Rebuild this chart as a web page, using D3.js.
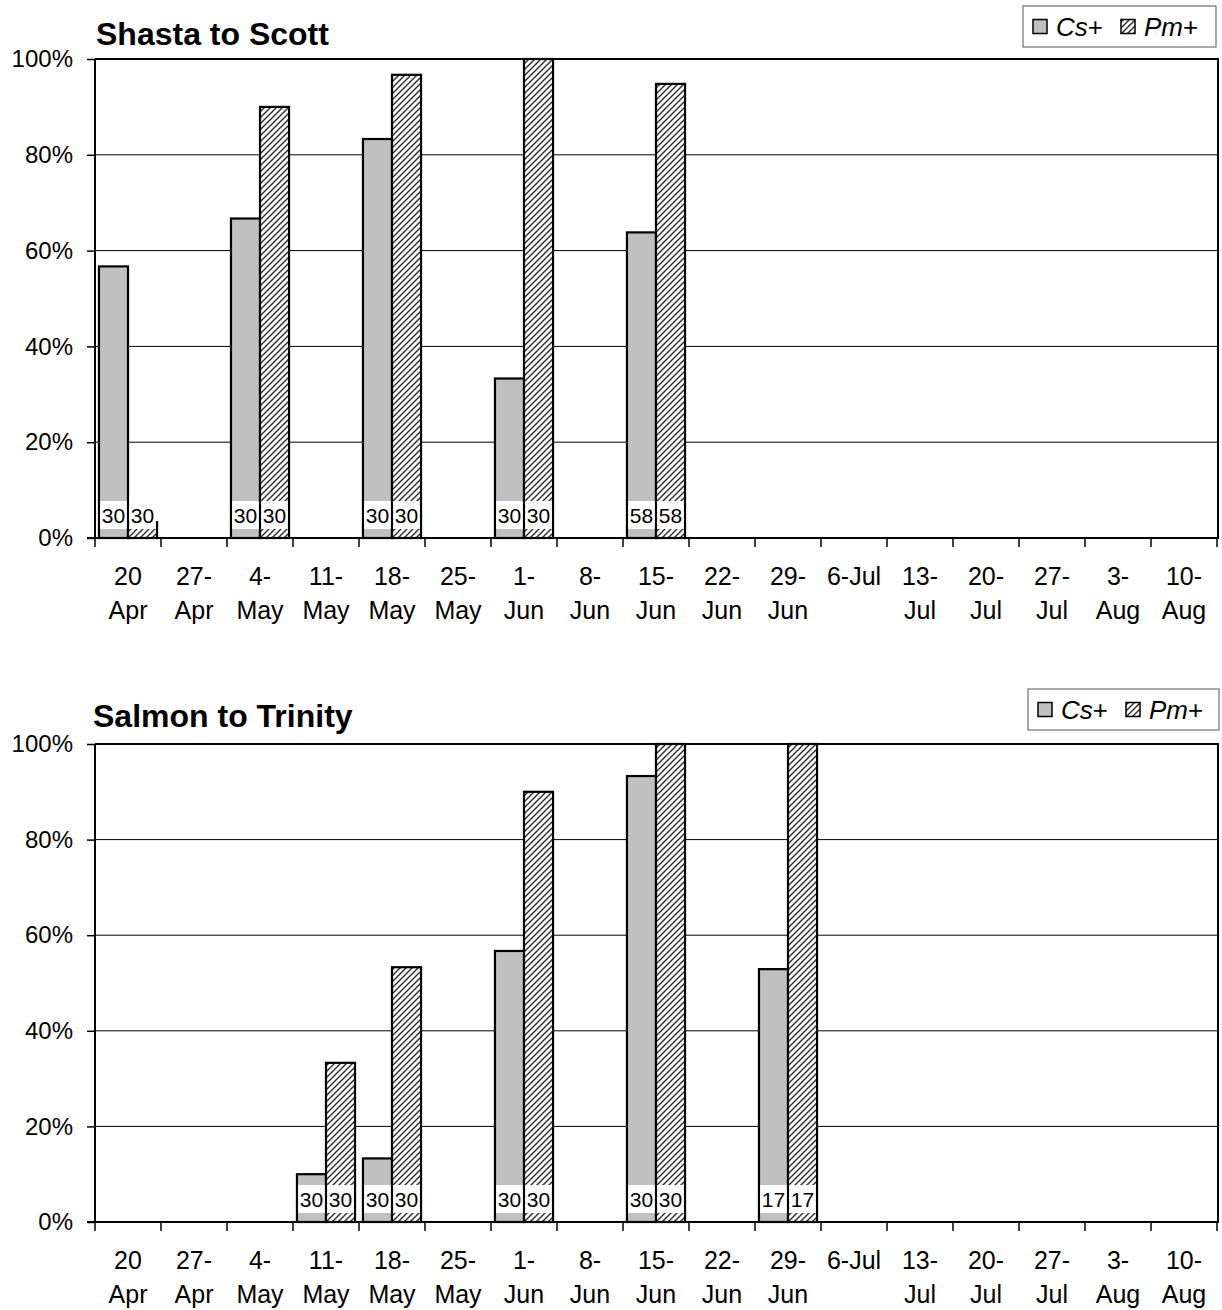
<!DOCTYPE html>
<html>
<head>
<meta charset="utf-8">
<script src="https://cdn.jsdelivr.net/npm/d3@7"></script>
<style>
  body { margin: 0; background: #fff; }
  svg { display: block; font-family: Arial, "Liberation Sans", sans-serif; }
</style>
</head>
<body>
<div id="chart"></div>
<script>
// Week labels shared by both panels
const categories = ["20 Apr", "27-Apr", "4-May", "11-May", "18-May", "25-May", "1-Jun", "8-Jun",
  "15-Jun", "22-Jun", "29-Jun", "6-Jul", "13-Jul", "20-Jul", "27-Jul", "3-Aug", "10-Aug"];

const seriesNames = ["Cs", "Pm"];
const yTicks = [0, 20, 40, 60, 80, 100];

// Shasta to Scott: percent positive and sample size per week (null = no sample)
const shastaCs = [56.7, null, 66.7, null, 83.3, null, 33.3, null, 63.8, null, null, null, null, null, null, null, null];
const shastaPm = [3.3, null, 90.0, null, 96.7, null, 100, null, 94.8, null, null, null, null, null, null, null, null];
const shastaN  = [30, null, 30, null, 30, null, 30, null, 58, null, null, null, null, null, null, null, null];

// Salmon to Trinity
const salmonCs = [null, null, null, 10.0, 13.3, null, 56.7, null, 93.3, null, 52.9, null, null, null, null, null, null];
const salmonPm = [null, null, null, 33.3, 53.3, null, 90.0, null, 100, null, 100, null, null, null, null, null, null];
const salmonN  = [null, null, null, 30, 30, null, 30, null, 30, null, 17, null, null, null, null, null, null];

const width = 1222, height = 1310;
const svg = d3.select("#chart").append("svg")
  .attr("width", width)
  .attr("height", height);

// hatch pattern for Pm+
const defs = svg.append("defs");
const pat = defs.append("pattern")
  .attr("id", "hatch")
  .attr("patternUnits", "userSpaceOnUse")
  .attr("width", 6)
  .attr("height", 6);
pat.append("rect").attr("width", 6).attr("height", 6).attr("fill", "#fff");
pat.append("path")
  .attr("d", "M-1,7 L7,-1 M-1,1 L1,-1 M5,7 L7,5")
  .attr("stroke", "#333")
  .attr("stroke-width", 1.5);

const fills = { Cs: "#c0c0c0", Pm: "url(#hatch)" };

function drawPanel(opts) {
  const { title, cs, pm, n, top, bottom, titleX, titleY, legend } = opts;
  const left = 95, right = 1217;

  const x = d3.scaleBand()
    .domain(categories)
    .range([left, right])
    .paddingInner(0.12)
    .paddingOuter(0.06);

  const xs = d3.scaleBand()
    .domain(seriesNames)
    .range([0, x.bandwidth()]);

  const y = d3.scaleLinear()
    .domain([0, 100])
    .range([bottom, top]);

  const g = svg.append("g");

  // gridlines
  g.append("g")
    .selectAll("line")
    .data(yTicks.filter(t => t > 0 && t < 100))
    .join("line")
    .attr("x1", left).attr("x2", right)
    .attr("y1", d => y(d)).attr("y2", d => y(d))
    .attr("stroke", "#000")
    .attr("stroke-width", 1);

  // top + right frame
  g.append("path")
    .attr("d", `M${left},${y(100)} H${right + 1} V${bottom}`)
    .attr("fill", "none")
    .attr("stroke", "#000")
    .attr("stroke-width", 2);

  // bars
  const rows = categories.map((c, i) => ({ cat: c, Cs: cs[i], Pm: pm[i], n: n[i] }));
  const bars = [];
  rows.forEach(r => seriesNames.forEach(s => {
    if (r[s] != null) bars.push({ cat: r.cat, key: s, value: r[s], n: r.n });
  }));

  g.append("g")
    .selectAll("rect")
    .data(bars)
    .join("rect")
    .attr("x", d => x(d.cat) + xs(d.key))
    .attr("y", d => y(d.value))
    .attr("width", xs.bandwidth())
    .attr("height", d => y(0) - y(d.value))
    .attr("fill", d => fills[d.key])
    .attr("stroke", "#000")
    .attr("stroke-width", 2.2);

  // sample size labels with white boxes
  const lab = g.append("g")
    .selectAll("g")
    .data(bars)
    .join("g")
    .attr("transform", d => `translate(${x(d.cat) + xs(d.key) + xs.bandwidth() / 2},${y(0) - 23})`);
  lab.append("rect")
    .attr("x", -xs.bandwidth() / 2 + 1.2)
    .attr("y", -14)
    .attr("width", xs.bandwidth() - 2.4)
    .attr("height", 28)
    .attr("fill", "#fff");
  lab.append("text")
    .attr("text-anchor", "middle")
    .attr("dy", "0.36em")
    .attr("font-size", 21)
    .text(d => d.n);

  // y axis
  const yAxis = g.append("g")
    .attr("transform", `translate(${left},0)`)
    .call(d3.axisLeft(y).tickValues(yTicks).tickFormat(d => d + "%").tickSize(8).tickPadding(14));
  yAxis.select(".domain").attr("stroke-width", 2).attr("d", `M0,${y(100)}V${bottom + 1}`);
  yAxis.selectAll("text").attr("font-size", 24).attr("fill", "#000").attr("font-family", "Arial, 'Liberation Sans', sans-serif");
  yAxis.selectAll("line").attr("stroke-width", 1.5);

  // x axis: ticks at category boundaries
  const step = x.step();
  const bounds = d3.range(categories.length + 1).map(i => left + i * step);
  g.append("line")
    .attr("x1", left - 8).attr("x2", right + 2)
    .attr("y1", bottom).attr("y2", bottom)
    .attr("stroke", "#000").attr("stroke-width", 2);
  g.append("g")
    .selectAll("line")
    .data(bounds)
    .join("line")
    .attr("x1", d => d).attr("x2", d => d)
    .attr("y1", bottom).attr("y2", bottom + 9)
    .attr("stroke", "#000").attr("stroke-width", 1.5);

  const xl = g.append("g")
    .selectAll("text")
    .data(categories)
    .join("text")
    .attr("x", d => x(d) + x.bandwidth() / 2)
    .attr("y", bottom + 47)
    .attr("text-anchor", "middle")
    .attr("font-size", 25)
    .text(d => d);
  // wrap labels that don't fit comfortably in a category
  xl.each(function(d) {
    const t = d3.select(this);
    if (this.getComputedTextLength() <= 58) return;
    const m = d.match(/^(\S+?[- ])(.*)$/);
    const parts = [m[1].trim(), m[2]];
    t.text(null);
    parts.forEach((p, i) => {
      t.append("tspan")
        .attr("x", t.attr("x"))
        .attr("dy", i === 0 ? 0 : 34)
        .text(p);
    });
  });

  // title
  svg.append("text")
    .attr("x", titleX)
    .attr("y", titleY)
    .attr("font-size", 32)
    .attr("font-weight", "bold")
    .text(title);

  // legend
  const lg = svg.append("g").attr("transform", `translate(${legend.x},${legend.y})`);
  lg.append("rect")
    .attr("width", legend.w).attr("height", legend.h)
    .attr("fill", "#fff").attr("stroke", "#555").attr("stroke-width", 1);
  const items = [
    { key: "Cs", label: "Cs", dx: 10 },
    { key: "Pm", label: "Pm", dx: 98 }
  ];
  items.forEach(it => {
    lg.append("rect")
      .attr("x", it.dx).attr("y", legend.h / 2 - 7)
      .attr("width", 14).attr("height", 14)
      .attr("fill", fills[it.key])
      .attr("stroke", "#000").attr("stroke-width", 1.5);
    const t = lg.append("text")
      .attr("x", it.dx + 23)
      .attr("y", legend.h / 2 + 9)
      .attr("font-size", 26);
    t.append("tspan").attr("font-style", "italic").text(it.label);
    t.append("tspan").text("+");
  });
}

drawPanel({
  title: "Shasta to Scott", cs: shastaCs, pm: shastaPm, n: shastaN,
  top: 59, bottom: 538, titleX: 96, titleY: 45,
  legend: { x: 1023, y: 6, w: 193, h: 41 }
});

drawPanel({
  title: "Salmon to Trinity", cs: salmonCs, pm: salmonPm, n: salmonN,
  top: 744, bottom: 1222, titleX: 93, titleY: 727,
  legend: { x: 1028, y: 689, w: 191, h: 41 }
});
</script>
</body>
</html>
